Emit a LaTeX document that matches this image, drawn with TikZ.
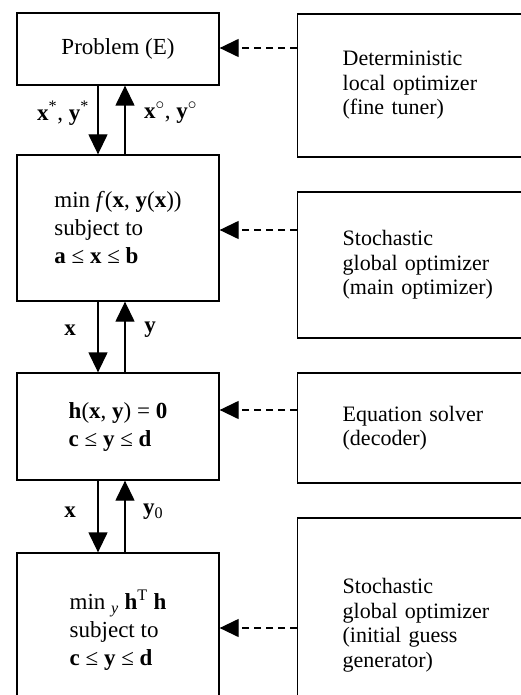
\documentclass[tikz,border=0pt]{standalone}
\usepackage{fontspec}
\setmainfont{Liberation Serif}
\usetikzlibrary{arrows.meta}
\begin{document}
\begin{tikzpicture}[x=1pt,y=-1pt,
  lbox/.style={draw=black, line width=1.3pt, minimum width=202pt, inner sep=0pt, align=left, font=\fontsize{23}{28}\selectfont},
  rbox/.style={draw=black, line width=1.3pt, anchor=west, inner xsep=45pt, inner ysep=0pt, text width=190pt, align=left, font=\fontsize{22}{24.5}\selectfont},
  flow/.style={line width=1.3pt, -{Triangle[length=20pt,width=19pt]}},
  dasharrow/.style={line width=1.3pt, dash pattern=on 7pt off 5pt, -{Triangle[length=19pt,width=18pt]}},
  lab/.style={font=\fontsize{23}{27}\selectfont, inner sep=0pt}]
\clip (0,0) rectangle (521,695);
% left boxes
\node[lbox, minimum height=72pt] (L1) at (118,49) {Problem (E)};
\node[lbox, minimum height=146pt] (L2) at (118,228) {min \textit{f}(\textbf{x}, \textbf{y}(\textbf{x}))\\subject to\\\textbf{a} ≤ \textbf{x} ≤ \textbf{b}};
\node[lbox, minimum height=107pt] (L3) at (118,426.5) {\textbf{h}(\textbf{x}, \textbf{y}) = \textbf{0}\\\textbf{c} ≤ \textbf{y} ≤ \textbf{d}};
\node[lbox, minimum height=154pt] (L4) at (118,630) {min \textsubscript{\textit{y}} \textbf{h}\textsuperscript{T} \textbf{h}\\subject to\\\textbf{c} ≤ \textbf{y} ≤ \textbf{d}};
% right boxes
\node[rbox, minimum height=143pt] (R1) at (297,85.5) {Deterministic\\local optimizer\\(fine tuner)};
\node[rbox, minimum height=146pt] (R2) at (297,265) {Stochastic\\global optimizer\\(main optimizer)};
\node[rbox, minimum height=110pt] (R3) at (297,428) {Equation solver\\(decoder)};
\node[rbox, minimum height=214pt] (R4) at (297,625) {Stochastic\\global optimizer\\(initial guess\\generator)};
% dashed connectors
\coordinate (d1) at (258,48);
\coordinate (d2) at (258,230);
\coordinate (d3) at (258,410);
\coordinate (d4) at (258,628);
\draw[dasharrow] (R1.west |- d1) -- (L1.east |- d1);
\draw[dasharrow] (R2.west |- d2) -- (L2.east |- d2);
\draw[dasharrow] (R3.west |- d3) -- (L3.east |- d3);
\draw[dasharrow] (R4.west |- d4) -- (L4.east |- d4);
% vertical flows
\draw[flow] ([xshift=-20pt]L1.south) -- ([xshift=-20pt]L2.north);
\draw[flow] ([xshift=7pt]L2.north) -- ([xshift=7pt]L1.south);
\draw[flow] ([xshift=-20pt]L2.south) -- ([xshift=-20pt]L3.north);
\draw[flow] ([xshift=7pt]L3.north) -- ([xshift=7pt]L2.south);
\draw[flow] ([xshift=-20pt]L3.south) -- ([xshift=-20pt]L4.north);
\draw[flow] ([xshift=7pt]L4.north) -- ([xshift=7pt]L3.south);
% labels
\node[lab, anchor=east] (a1) at (89,113) {\textbf{x}\textsuperscript{*}, \textbf{y}\textsuperscript{*}};
\node[lab, anchor=west] (b1) at (144,113) {\textbf{x}\textsuperscript{$\circ$}, \textbf{y}\textsuperscript{$\circ$}};
\node[lab] (a2) at (70,330) {\textbf{x}};
\node[lab] (b2) at (150,330) {\textbf{y}};
\node[lab] (a3) at (70,512) {\textbf{x}};
\node[lab, anchor=west] (b3) at (143,512) {\textbf{y}\textsubscript{0}};
\end{tikzpicture}
\end{document}
